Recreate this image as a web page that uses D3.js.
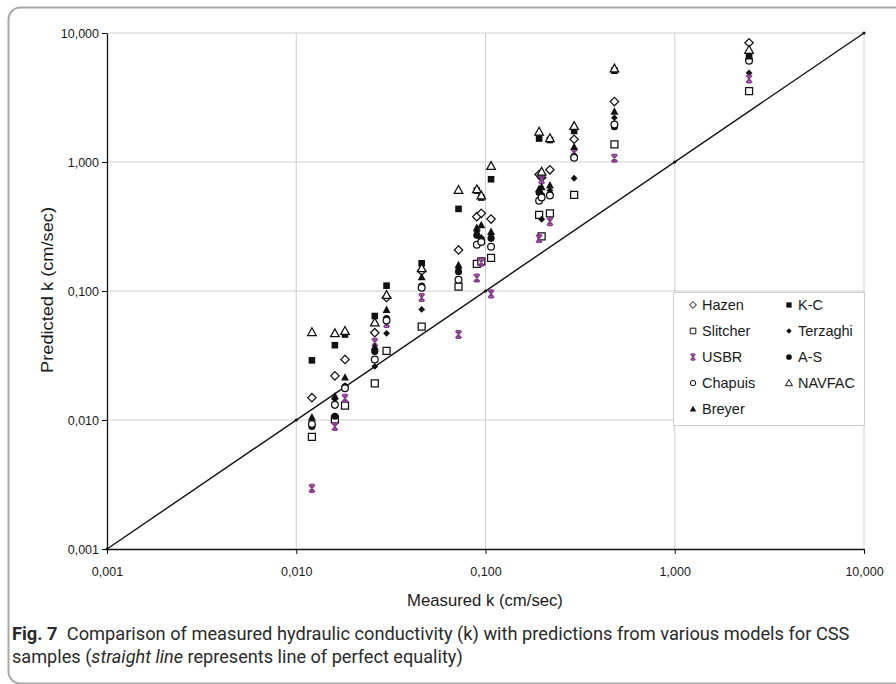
<!DOCTYPE html>
<html><head><meta charset="utf-8">
<script src="https://cdn.jsdelivr.net/npm/d3@7"></script>
<style>
html,body{margin:0;padding:0;background:#fff;}
svg{display:block;}
</style></head>
<body>
<svg id="chart" width="896" height="684"></svg>
<script>
// ---------------- DATA ----------------
const measured = [0.0121, 0.016, 0.0181, 0.026, 0.030, 0.046, 0.072, 0.090, 0.095, 0.107, 0.192, 0.198, 0.219, 0.294, 0.48, 2.47];
const hazen    = [0.0149, 0.022, 0.0295, 0.0475, 0.089, 0.143, 0.208, 0.377, 0.40, 0.361, 0.80, 0.76, 0.87, 1.50, 2.94, 8.4];
const kc       = [0.029, 0.038, 0.046, 0.064, 0.110, 0.164, 0.433, 0.60, 0.53, 0.735, 1.52, 0.78, 1.48, 1.74, 5.1, 6.9];
const slitcher = [0.0074, 0.0101, 0.0129, 0.0192, 0.0343, 0.053, 0.108, 0.162, 0.17, 0.181, 0.39, 0.265, 0.40, 0.555, 1.37, 3.55];
const terzaghi = [0.0097, 0.0145, 0.0185, 0.026, 0.047, 0.072, 0.148, 0.288, 0.26, 0.265, 0.52, 0.36, 0.60, 0.748, 2.2, 4.9];
const usbr     = [0.00295, 0.0089, 0.0147, 0.040, 0.056, 0.089, 0.046, 0.126, 0.167, 0.095, 0.255, 0.73, 0.345, 1.17, 1.07, 4.4];
const as       = [0.0089, 0.0107, 0.0181, 0.034, 0.061, 0.109, 0.141, 0.27, 0.25, 0.256, 0.58, 0.55, 0.56, 1.10, 1.88, 6.3];
const chapuis  = [0.0093, 0.0131, 0.0176, 0.0295, 0.059, 0.106, 0.122, 0.228, 0.24, 0.22, 0.50, 0.53, 0.55, 1.08, 1.95, 6.1];
const navfac   = [0.048, 0.047, 0.049, 0.057, 0.093, 0.150, 0.607, 0.614, 0.55, 0.93, 1.72, 0.84, 1.53, 1.90, 5.3, 7.4];
const breyer   = [0.0105, 0.0153, 0.0214, 0.037, 0.0715, 0.128, 0.159, 0.31, 0.325, 0.288, 0.62, 0.64, 0.66, 1.31, 2.46, 6.6];
const seriesNames = ["Hazen", "K-C", "Slitcher", "Terzaghi", "USBR", "A-S", "Chapuis", "NAVFAC", "Breyer"];
const axisTicks = [0.001, 0.01, 0.1, 1, 10];
const tickLabels = ["0,001", "0,010", "0,100", "1,000", "10,000"];
const equalityLine = [0.001, 10];
const xTitle = "Measured k (cm/sec)";
const yTitle = "Predicted k (cm/sec)";

// ---------------- SETUP ----------------
const seriesValues = [hazen, kc, slitcher, terzaghi, usbr, as, chapuis, navfac, breyer];
const seriesShape  = ["diamondOpen","squareFill","squareOpen","diamondFill","star","circleFill","circleOpen","triangleOpen","triangleFill"];
const purple = "#873a8c";
const FONT = "'Liberation Sans', Arial, sans-serif";

const svg = d3.select("#chart");
const x = d3.scaleLog().domain([0.001, 10]).range([107, 864]);
const y = d3.scaleLog().domain([0.001, 10]).range([549, 33]);

// frame
svg.append("rect").attr("x", 8.5).attr("y", 7.5).attr("width", 940).attr("height", 676)
  .attr("rx", 12).attr("ry", 12).attr("fill", "none").attr("stroke", "#a8a8a8").attr("stroke-width", 2);

// gridlines
const grid = svg.append("g");
grid.selectAll("line.v").data(axisTicks.slice(1)).join("line")
  .attr("x1", d => x(d)).attr("x2", d => x(d)).attr("y1", y(10)).attr("y2", y(0.001))
  .attr("stroke", "#cfcfcf").attr("stroke-width", 1);
grid.selectAll("line.h").data(axisTicks.slice(1)).join("line")
  .attr("x1", x(0.001)).attr("x2", x(10)).attr("y1", d => y(d)).attr("y2", d => y(d))
  .attr("stroke", "#cfcfcf").attr("stroke-width", 1);

// equality line
svg.append("line").attr("x1", x(equalityLine[0])).attr("y1", y(equalityLine[0]))
  .attr("x2", x(equalityLine[1])).attr("y2", y(equalityLine[1]))
  .attr("stroke", "#111").attr("stroke-width", 1.4);
svg.selectAll("circle.eq").data(axisTicks).join("circle")
  .attr("cx", d => x(d)).attr("cy", d => y(d)).attr("r", 1.6).attr("fill", "#111");

// axes
const fmt = d => tickLabels[axisTicks.indexOf(d)];
const xAxis = svg.append("g").attr("transform", `translate(0,${y(0.001)})`)
  .call(d3.axisBottom(x).tickValues(axisTicks).tickFormat(fmt).tickSize(5).tickSizeOuter(0));
const yAxis = svg.append("g").attr("transform", `translate(${x(0.001)},0)`)
  .call(d3.axisLeft(y).tickValues(axisTicks).tickFormat(fmt).tickSize(5).tickSizeOuter(0));
[xAxis, yAxis].forEach(a => {
  a.select(".domain").attr("stroke", "#111").attr("stroke-width", 1.3);
  a.selectAll(".tick line").attr("stroke", "#111");
  a.selectAll("text").attr("font-family", FONT)
    .attr("font-size", 12.5).attr("fill", "#1a1a1a");
});
xAxis.selectAll("text").attr("dy", null).attr("y", 27);
yAxis.selectAll("text").attr("x", -8).attr("dy", "0.35em");

// shapes
function shapePath(t) {
  switch (t) {
    case "diamondOpen": return "M0,-4.2L4.2,0L0,4.2L-4.2,0Z";
    case "diamondFill": return "M0,-3.4L3.4,0L0,3.4L-3.4,0Z";
    case "squareOpen": return "M-3.5,-3.5H3.5V3.5H-3.5Z";
    case "squareFill": return "M-3.3,-3.3H3.3V3.3H-3.3Z";
    case "triangleOpen": return "M0,-4.4L4.3,3.4L-4.3,3.4Z";
    case "triangleFill": return "M0,-4.2L4,3.2L-4,3.2Z";
    case "circleOpen": return d3.symbol(d3.symbolCircle, 36)();
    case "circleFill": return d3.symbol(d3.symbolCircle, 40)();
    case "star": return "M-3,-3.6L3,3.6M3,-3.6L-3,3.6M-2.2,-3.8H2.2M-2.2,3.8H2.2M0,-3.6V3.6";
  }
}
function styleShape(sel, t) {
  if (t === "star") sel.attr("fill", "none").attr("stroke", purple).attr("stroke-width", 1.5);
  else if (t.endsWith("Open")) sel.attr("fill", "#fff").attr("stroke", "#111").attr("stroke-width", 1.25);
  else sel.attr("fill", "#111").attr("stroke", "none");
}

const pts = svg.append("g");
seriesValues.forEach((vals, si) => {
  const t = seriesShape[si];
  const data = measured.map((m, i) => ({ m, p: vals[i] })).filter(d => d.p != null);
  const g = pts.append("g");
  const s = g.selectAll("path").data(data).join("path")
    .attr("d", shapePath(t))
    .attr("transform", d => `translate(${x(d.m)},${y(d.p)})`);
  styleShape(s, t);
});

// legend
const lg = svg.append("g");
lg.append("rect").attr("x", 673.5).attr("y", 292.5).attr("width", 191).attr("height", 133)
  .attr("fill", "#fff").attr("stroke", "#cfcfcf");
seriesNames.forEach((name, i) => {
  const col = i % 2, row = Math.floor(i / 2);
  const sx = col === 0 ? 693 : 789;
  const sy = 305 + row * 26;
  const t = seriesShape[i];
  const p = lg.append("path").attr("d", shapePath(t))
    .attr("transform", `translate(${sx},${sy}) scale(0.8)`);
  styleShape(p, t);
  lg.append("text").attr("x", sx + 9).attr("y", sy).attr("dy", "0.36em")
    .attr("font-family", FONT).attr("font-size", 14.5)
    .attr("fill", "#1a1a1a").text(name);
});

// axis titles (scaled horizontally to the reference width)
const xt = svg.append("text").attr("font-family", FONT)
  .attr("font-size", 16).attr("fill", "#1a1a1a").attr("text-anchor", "middle").text(xTitle);
xt.attr("transform", `translate(485,606) scale(${156 / xt.node().getComputedTextLength()},1)`);
const yt = svg.append("text").attr("font-family", FONT)
  .attr("font-size", 17).attr("fill", "#1a1a1a").attr("text-anchor", "middle").text(yTitle);
yt.attr("transform", `translate(53,290) rotate(-90) scale(${166 / yt.node().getComputedTextLength()},1)`);

// caption
function caption(parts, yBase, targetW) {
  const t = svg.append("text").attr("font-family", "Roboto, 'Noto Sans', sans-serif")
    .attr("font-size", 19).attr("fill", "#2a2a2a");
  parts.forEach(p => {
    const ts = t.append("tspan").text(p.s);
    if (p.b) ts.attr("font-weight", "bold");
    if (p.i) ts.attr("font-style", "italic");
  });
  const w = t.node().getComputedTextLength();
  t.attr("transform", `translate(12,${yBase}) scale(${targetW / w},1)`);
}
caption([{ s: "Fig. 7", b: true }, { s: "\u2002Comparison of measured hydraulic conductivity (k) with predictions from various models for CSS" }], 640, 838);
caption([{ s: "samples (" }, { s: "straight line", i: true }, { s: " represents line of perfect equality)" }], 663, 451);
</script>
</body></html>
